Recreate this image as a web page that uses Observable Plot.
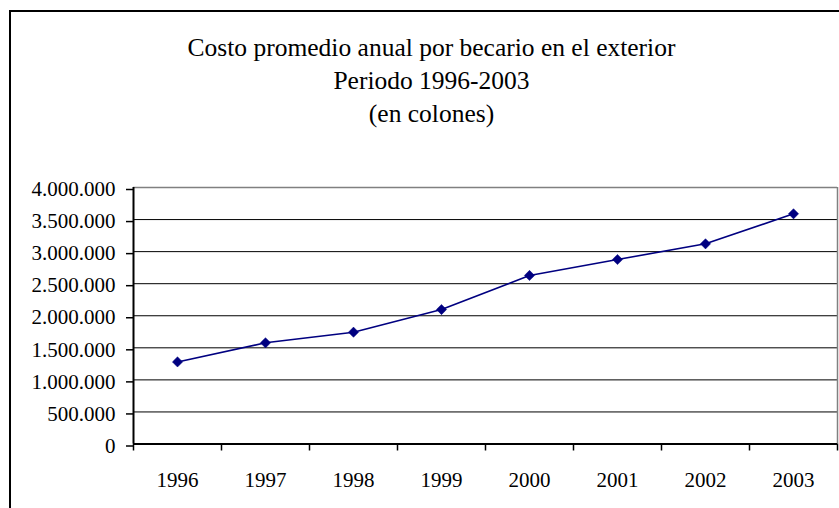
<!DOCTYPE html>
<html>
<head>
<meta charset="utf-8">
<script src="https://cdn.jsdelivr.net/npm/d3@7"></script>
<script src="https://cdn.jsdelivr.net/npm/@observablehq/plot@0.6"></script>
<style>
  html, body { margin: 0; padding: 0; background: white; }
  #wrap { position: relative; width: 839px; height: 508px; overflow: hidden; background: white; }
  #chart { position: absolute; left: 0; top: 0; }
  #border { position: absolute; left: 9px; top: 10px; width: 2000px; height: 2000px;
            border-left: 2px solid #000; border-top: 2px solid #000; box-sizing: border-box; pointer-events: none; }
  #title { position: absolute; left: 431.5px; top: 31px; transform: translateX(-50%);
           font-family: "Liberation Serif", "DejaVu Serif", serif; font-size: 25.5px; line-height: 33px;
           text-align: center; white-space: nowrap; color: #000; }
</style>
</head>
<body>
<div id="wrap">
  <div id="chart"></div>
  <div id="border"></div>
  <div id="title">Costo promedio anual por becario en el exterior<br>Periodo 1996-2003<br>(en colones)</div>
</div>
<script>
const years = ["1996", "1997", "1998", "1999", "2000", "2001", "2002", "2003"];
const costs = [1280000, 1578000, 1743000, 2097000, 2628000, 2877000, 3122000, 3590000];
const yTicks = [0, 500000, 1000000, 1500000, 2000000, 2500000, 3000000, 3500000, 4000000];

const data = years.map((y, i) => ({year: y, pos: i + 0.5, value: costs[i]}));
const n = years.length;
const fmt = v => d3.format(",")(v).replace(/,/g, ".");
const font = '"Liberation Serif", "DejaVu Serif", serif';

const chart = Plot.plot({
  width: 839,
  height: 508,
  marginLeft: 133,
  marginRight: 2,
  marginTop: 187,
  marginBottom: 64.5,
  style: {fontFamily: font, fontSize: "21px", background: "transparent", color: "#000", overflow: "visible"},
  x: {domain: [0, n], axis: null},
  y: {domain: [0, 4000000], axis: null},
  marks: [
    Plot.ruleY(yTicks.filter(v => v > 0 && v < 4000000), {stroke: "#000", strokeWidth: 1}),
    Plot.ruleY([4000000], {stroke: "#808080", strokeWidth: 1.5}),
    Plot.ruleX([n], {stroke: "#808080", strokeWidth: 1.5}),
    Plot.axisY({ticks: yTicks, tickSize: 7, tickPadding: 11, tickFormat: fmt, fontSize: 21, stroke: "#000", strokeWidth: 1.5, dy: 2, label: null}),
    Plot.axisX({ticks: d3.range(n + 1), tickSize: 7, tickFormat: () => "", stroke: "#000", strokeWidth: 1.5, label: null}),
    Plot.axisX({ticks: data.map(d => d.pos), tickSize: 0, tickPadding: 28, tickFormat: v => years[Math.floor(v)], fontSize: 21, label: null}),
    Plot.ruleX([0], {stroke: "#000", strokeWidth: 2}),
    Plot.ruleY([0], {stroke: "#000", strokeWidth: 2}),
    Plot.line(data, {x: "pos", y: "value", stroke: "#000080", strokeWidth: 1.6}),
    Plot.dot(data, {x: "pos", y: "value", symbol: "diamond2", r: 4.6, fill: "#000080", stroke: "#000080", strokeWidth: 0.5})
  ]
});
document.getElementById("chart").appendChild(chart);
</script>
</body>
</html>
